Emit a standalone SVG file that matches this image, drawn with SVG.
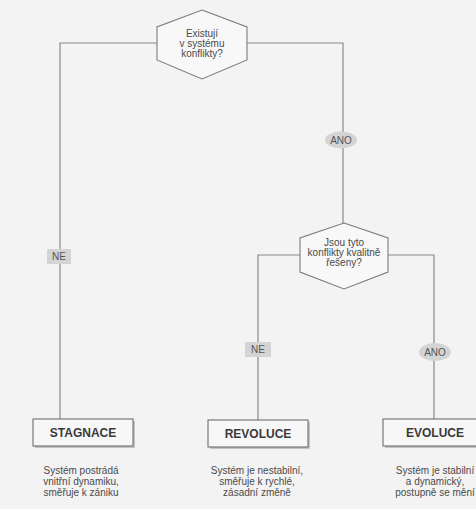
<svg xmlns="http://www.w3.org/2000/svg" width="476" height="509" viewBox="0 0 476 509">
  <style>
    .wire { fill: none; stroke: #8a8a8a; stroke-width: 1.2; }
    .hex { fill: #f8f8f8; stroke: #7d7d7d; stroke-width: 1.1; }
    .box { fill: #f7f7f7; stroke: #6e6e6e; stroke-width: 1.1; }
    .shadow { fill: #c4c4c4; }
    .q { font-family: "Liberation Sans", Arial, sans-serif; font-size: 10px; fill: #4a4a4a; text-anchor: middle; }
    .title { font-family: "Liberation Sans", Arial, sans-serif; font-size: 12px; font-weight: bold; fill: #3a3a3a; text-anchor: middle; }
    .desc { font-family: "Liberation Sans", Arial, sans-serif; font-size: 10px; fill: #4a4a4a; text-anchor: middle; }
    .tag { fill: #d4d4d4; }
    .tagtext { font-family: "Liberation Sans", Arial, sans-serif; font-size: 10px; fill: #555; text-anchor: middle; }
  </style>

  <rect x="0" y="0" width="476" height="509" fill="#f3f3f3"/>

  <!-- connectors -->
  <g id="connectors">
    <polyline class="wire" points="157,43 60,43 60,419"/>
    <polyline class="wire" points="247,43 343,43 343,223"/>
    <polyline class="wire" points="300,255 258,255 258,420"/>
    <polyline class="wire" points="388,255 434,255 434,419"/>
    <g id="label-ne-left">
      <rect class="tag" x="47" y="249" width="24" height="15"/>
      <text class="tagtext" x="59" y="260">NE</text>
    </g>
    <g id="label-ano-top">
      <ellipse class="tag" cx="341" cy="140" rx="16" ry="8.5"/>
      <text class="tagtext" x="341" y="143.5">ANO</text>
    </g>
    <g id="label-ne-mid">
      <rect class="tag" x="245" y="342" width="26" height="15"/>
      <text class="tagtext" x="258" y="353">NE</text>
    </g>
    <g id="label-ano-right">
      <ellipse class="tag" cx="435" cy="352" rx="16" ry="9"/>
      <text class="tagtext" x="435" y="355.5">ANO</text>
    </g>
  </g>

  <!-- decision: conflicts present -->
  <g id="q-conflicts">
    <polygon class="hex" points="202,10 247,27 247,60 202,79 157,60 157,27"/>
    <text class="q" x="202" y="37">Existují</text>
    <text class="q" x="202" y="47">v systému</text>
    <text class="q" x="202" y="57">konflikty?</text>
  </g>

  <!-- decision: conflicts resolved well -->
  <g id="q-resolved">
    <polygon class="hex" points="344,223 388,238 388,272 344,289 300,272 300,238"/>
    <text class="q" x="344" y="246">Jsou tyto</text>
    <text class="q" x="344" y="256">konflikty kvalitně</text>
    <text class="q" x="344" y="266">řešeny?</text>
  </g>

  <!-- outcome: stagnation -->
  <g id="stagnace">
    <rect class="shadow" x="35" y="421" width="100" height="27"/>
    <rect class="box" x="33" y="419" width="100" height="27"/>
    <text class="title" x="83" y="437">STAGNACE</text>
    <text class="desc" x="81" y="474">Systém postrádá</text>
    <text class="desc" x="81" y="485">vnitřní dynamiku,</text>
    <text class="desc" x="81" y="496">směřuje k zániku</text>
  </g>

  <!-- outcome: revolution -->
  <g id="revoluce">
    <rect class="shadow" x="210" y="422" width="100" height="27"/>
    <rect class="box" x="208" y="420" width="100" height="27"/>
    <text class="title" x="258" y="438">REVOLUCE</text>
    <text class="desc" x="257" y="474">Systém je nestabilní,</text>
    <text class="desc" x="257" y="485">směřuje k rychlé,</text>
    <text class="desc" x="257" y="496">zásadní změně</text>
  </g>

  <!-- outcome: evolution -->
  <g id="evoluce">
    <rect class="shadow" x="385" y="421" width="100" height="27"/>
    <rect class="box" x="383" y="419" width="100" height="27"/>
    <text class="title" x="435" y="437">EVOLUCE</text>
    <text class="desc" x="435" y="474">Systém je stabilní</text>
    <text class="desc" x="435" y="485">a dynamický,</text>
    <text class="desc" x="435" y="496">postupně se mění</text>
  </g>
</svg>
